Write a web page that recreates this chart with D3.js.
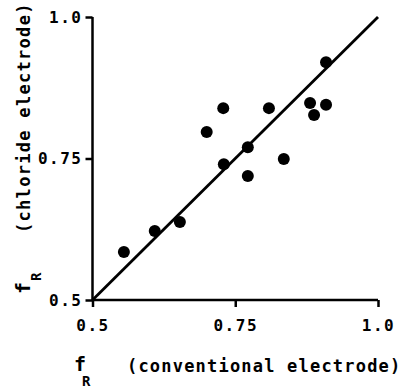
<!DOCTYPE html>
<html lang="en">
<meta charset="utf-8">

<head>
    <title>fR chloride vs conventional electrode</title>
    <script src="https://d3js.org/d3.v7.min.js"></script>
    <style>
        body { margin: 0; background: #fff; }
        text { font-family: "DejaVu Sans Mono", monospace; font-weight: bold; fill: #000; }
    </style>
</head>

<body>
    <div id="plot"></div>
    <script>
        // data
        var conventional = [0.555, 0.609, 0.653, 0.700, 0.729, 0.730, 0.772, 0.772, 0.809, 0.835, 0.881, 0.888, 0.909, 0.909];
        var chloride = [0.585, 0.622, 0.638, 0.797, 0.839, 0.740, 0.770, 0.719, 0.839, 0.749, 0.848, 0.827, 0.845, 0.920];
        var tickValues = [0.5, 0.75, 1.0];
        var tickLabels = ["0.5", "0.75", "1.0"];

        var W = 401, H = 388;
        var x0 = 92.5, x1 = 378, y0 = 300, y1 = 17;

        var svg = d3.select("#plot").append("svg")
            .attr("width", W)
            .attr("height", H);

        var x = d3.scaleLinear().domain([0.5, 1.0]).range([x0, x1]);
        var y = d3.scaleLinear().domain([0.5, 1.0]).range([y0, y1]);

        // X axis
        var xAxis = svg.append("g")
            .attr("transform", "translate(0," + y0 + ")")
            .call(d3.axisBottom(x).tickValues(tickValues).tickSize(7).tickPadding(13)
                .tickFormat(function (d, i) { return tickLabels[i]; }));
        xAxis.select(".domain").attr("d", "M" + x0 + ",0H" + x1).attr("stroke-width", 2.5);
        xAxis.selectAll(".tick line").attr("stroke-width", 2.5);
        xAxis.selectAll("text").style("font-size", "16px").attr("letter-spacing", "1.5px");

        // Y axis
        var yAxis = svg.append("g")
            .attr("transform", "translate(" + x0 + ",0)")
            .call(d3.axisLeft(y).tickValues(tickValues).tickSize(7).tickPadding(3)
                .tickFormat(function (d, i) { return tickLabels[i]; }));
        yAxis.select(".domain").attr("d", "M0," + y0 + "V" + y1).attr("stroke-width", 2.5);
        yAxis.selectAll(".tick line").attr("stroke-width", 2.5);
        yAxis.selectAll("text").style("font-size", "16px").attr("letter-spacing", "1.5px");

        // line of identity
        svg.append("line")
            .attr("x1", x(0.5)).attr("y1", y(0.5))
            .attr("x2", x(1.0)).attr("y2", y(1.0))
            .attr("stroke", "#000")
            .attr("stroke-width", 2.8);

        // points
        svg.selectAll("circle")
            .data(conventional)
            .enter()
            .append("circle")
            .attr("cx", function (d) { return x(d); })
            .attr("cy", function (d, i) { return y(chloride[i]); })
            .attr("r", 6)
            .attr("fill", "#000");

        // x axis title
        svg.append("text")
            .attr("x", 74).attr("y", 371)
            .style("font-size", "20px")
            .text("f");
        svg.append("text")
            .attr("x", 82).attr("y", 386)
            .style("font-size", "14px")
            .text("R");
        svg.append("text")
            .attr("x", 127).attr("y", 372)
            .style("font-size", "17px")
            .attr("letter-spacing", "1.2px")
            .text("(conventional electrode)");

        // y axis title
        var yt = svg.append("g").attr("transform", "translate(30,0) rotate(-90)");
        yt.append("text")
            .attr("x", -294).attr("y", 0)
            .style("font-size", "20px")
            .text("f");
        yt.append("text")
            .attr("x", -281).attr("y", 11)
            .style("font-size", "14px")
            .text("R");
        yt.append("text")
            .attr("x", -233).attr("y", 0)
            .style("font-size", "17px")
            .attr("letter-spacing", "1.3px")
            .text("(chloride electrode)");
    </script>
</body>

</html>
